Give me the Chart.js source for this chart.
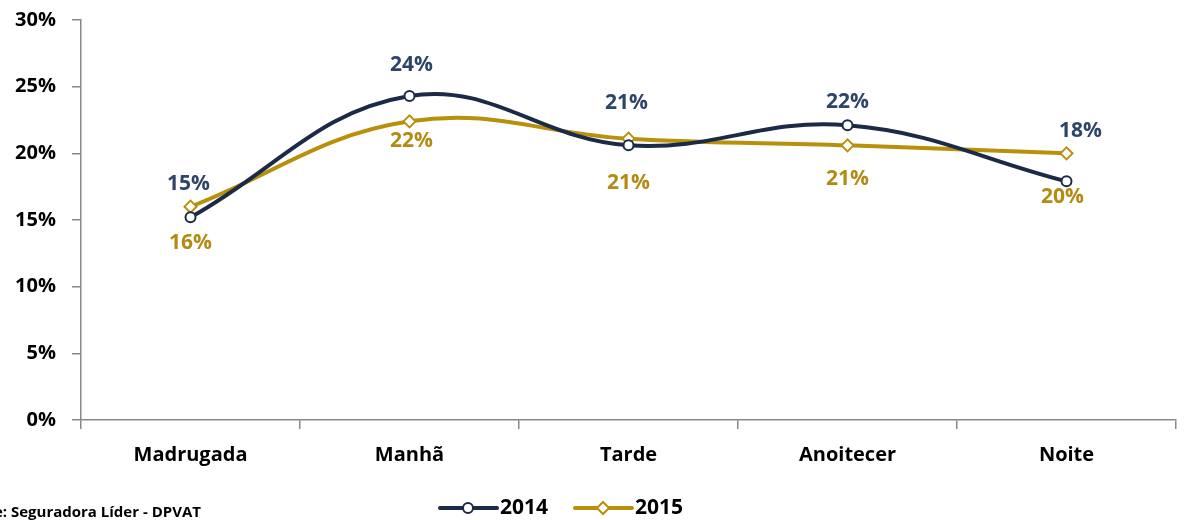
<!DOCTYPE html>
<html><head><meta charset="utf-8">
<script src="https://cdn.jsdelivr.net/npm/chart.js@4/dist/chart.umd.min.js"></script>
<style>html,body{margin:0;padding:0;background:#fff;}#wrap{width:1184px;height:520px;position:relative;}</style>
</head><body><div id="wrap"><canvas id="c" width="1184" height="520"></canvas></div>
<script>
const categories = ["Madrugada", "Manhã", "Tarde", "Anoitecer", "Noite"];
const series2014 = [15.2, 24.3, 20.6, 22.1, 17.9];
const series2015 = [16.0, 22.4, 21.1, 20.6, 20.0];
const labels2014 = ["15%", "24%", "21%", "22%", "18%"];
const labels2015 = ["16%", "22%", "21%", "21%", "20%"];
const yTicks = [0, 5, 10, 15, 20, 25, 30];
const sourceText = "Fonte: Seguradora Líder - DPVAT";

const NAVY = '#1B2A47', NAVY_TXT = '#2E4468', GOLD = '#B8900C', GOLD_TXT = '#B38B12';
const FONT = '"Open Sans", "Liberation Sans", sans-serif';

const labelPlugin = {
  id: 'pointLabels',
  afterDatasetsDraw(chart, args, opts) {
    const ctx = chart.ctx;
    ctx.save();
    ctx.font = 'bold 21px ' + FONT;
    ctx.textAlign = 'center'; ctx.textBaseline = 'middle';
    chart.data.datasets.forEach((ds, i) => {
      const meta = chart.getDatasetMeta(i);
      const o = opts.offsets[i];
      ctx.fillStyle = ds.labelColor;
      meta.data.forEach((pt, j) => {
        ctx.fillText(ds.valueLabels[j], pt.x + o.dx[j], pt.y + o.dy[j]);
      });
    });
    ctx.restore();
  }
};

const legendPlugin = {
  id: 'customLegend',
  afterDraw(chart) {
    const ctx = chart.ctx;
    ctx.save();
    const y = 508;
    let x = 440;
    chart.data.datasets.forEach((ds) => {
      ctx.strokeStyle = ds.borderColor; ctx.lineWidth = 4; ctx.lineCap = 'round';
      ctx.beginPath(); ctx.moveTo(x, y); ctx.lineTo(x + 57, y); ctx.stroke();
      const cx = x + 28;
      ctx.fillStyle = '#fff'; ctx.lineWidth = 2; ctx.strokeStyle = ds.borderColor;
      ctx.beginPath();
      if (ds.pointStyle === 'circle') { ctx.arc(cx, y, 5, 0, Math.PI * 2); }
      else { ctx.moveTo(cx, y - 6); ctx.lineTo(cx + 6, y); ctx.lineTo(cx, y + 6); ctx.lineTo(cx - 6, y); ctx.closePath(); }
      ctx.fill(); ctx.stroke();
      ctx.fillStyle = '#000'; ctx.font = 'bold 21px ' + FONT;
      ctx.textAlign = 'left'; ctx.textBaseline = 'middle';
      ctx.fillText(ds.label, x + 60, y);
      x += 135;
    });
    ctx.font = 'bold 15px ' + FONT;
    ctx.fillStyle = '#000'; ctx.textAlign = 'left'; ctx.textBaseline = 'middle';
    ctx.fillText(sourceText, -40, 513);
    ctx.restore();
  }
};

new Chart(document.getElementById('c'), {
  type: 'line',
  data: {
    labels: categories,
    datasets: [
      { label: '2014', data: series2014, valueLabels: labels2014, labelColor: NAVY_TXT,
        borderColor: NAVY, borderWidth: 4, tension: 0.4, pointStyle: 'circle', pointRadius: 5,
        pointBackgroundColor: '#fff', pointBorderColor: NAVY, pointBorderWidth: 2 },
      { label: '2015', data: series2015, valueLabels: labels2015, labelColor: GOLD_TXT,
        borderColor: GOLD, borderWidth: 4, tension: 0.4, pointStyle: 'rectRot', pointRadius: 6,
        pointBackgroundColor: '#fff', pointBorderColor: GOLD, pointBorderWidth: 2 }
    ]
  },
  options: {
    responsive: false, animation: false,
    layout: { padding: { top: 20, right: 7, left: 0, bottom: 0 } },
    plugins: {
      legend: { display: false }, tooltip: { enabled: false },
      pointLabels: { offsets: [
        { dx: [-2, 2, -2, 0, 14], dy: [-33, -31, -42, -23, -50] },
        { dx: [0, 2, 0, 0, -4], dy: [36, 20, 44, 34, 44] }
      ] }
    },
    scales: {
      x: {
        offset: true,
        afterFit: s => { s.height = 100; s.paddingLeft = 0; s.paddingRight = 0; },
        grid: { offset: true, drawOnChartArea: false, tickLength: 9, color: '#888', lineWidth: 1.5 },
        border: { color: '#888', width: 1.5 },
        ticks: { color: '#000', font: { family: FONT, size: 20, weight: 'bold' }, padding: 14 }
      },
      y: {
        min: 0, max: 30,
        afterFit: s => { s.width = 81; s.paddingTop = 0; s.paddingBottom = 0; },
        afterBuildTicks: s => { s.ticks = yTicks.map(v => ({ value: v })); },
        grid: { drawOnChartArea: false, tickLength: 9, color: '#888', lineWidth: 1.5 },
        border: { color: '#888', width: 1.5 },
        ticks: { color: '#000', font: { family: FONT, size: 20, weight: 'bold' }, padding: 16,
          callback: v => v + '%' }
      }
    }
  },
  plugins: [labelPlugin, legendPlugin]
});
</script></body></html>
